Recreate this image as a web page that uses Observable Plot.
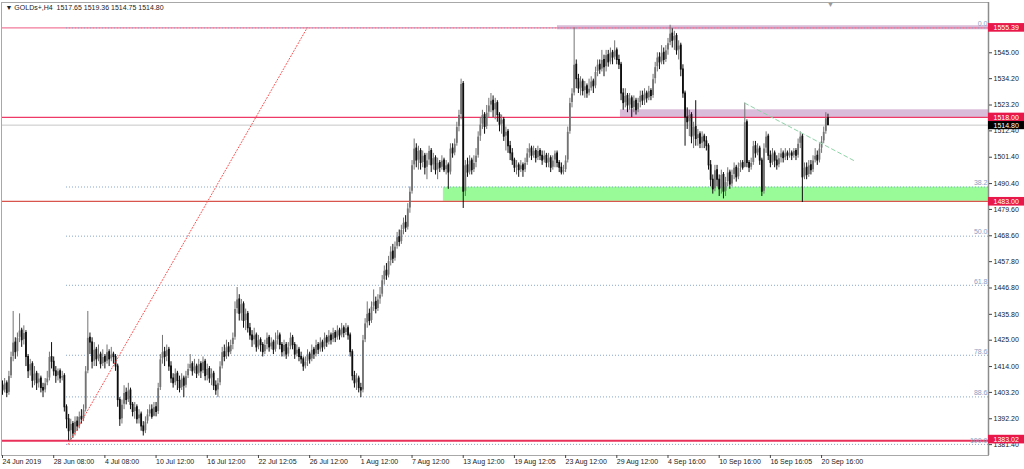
<!DOCTYPE html>
<html><head><meta charset="utf-8">
<script src="https://cdn.jsdelivr.net/npm/d3@7"></script>
<script src="https://cdn.jsdelivr.net/npm/@observablehq/plot@0.6"></script>
<style>body{margin:0;background:#fff} svg{display:block}</style>
</head><body><div id="chart"></div>
<script>
// ---- DATA (GOLDs+, H4) ----
const headerText = "\u25BC GOLDs+,H4  1517.65 1519.36 1514.75 1514.80";
const firstOpen = 1406;
const closes = [
1404,1407,1403,1410,1418,1424,1420,1426,1429,1425,
1428,1418,1412,1415,1408,1411,1407,1409,1405,1404,
1407,1409,1418,1416,1412,1410,1412,1409,1410,1397,
1392,1387,1390,1386,1391,1389,1393,1392,1396,1412,
1426,1424,1416,1421,1417,1419,1415,1418,1416,1420,
1417,1419,1418,1414,1400,1392,1398,1403,1400,1404,
1398,1395,1397,1392,1394,1389,1387,1391,1394,1396,
1393,1397,1395,1405,1417,1420,1418,1421,1414,1409,
1407,1411,1408,1405,1409,1406,1410,1413,1415,1412,
1414,1411,1415,1412,1416,1410,1413,1409,1411,1406,
1404,1407,1414,1420,1418,1422,1420,1423,1426,1438,
1442,1436,1440,1433,1436,1430,1427,1425,1427,1422,
1425,1423,1420,1423,1426,1422,1424,1421,1425,1427,
1423,1420,1423,1419,1422,1426,1423,1419,1421,1418,
1417,1414,1416,1419,1417,1421,1419,1423,1421,1424,
1422,1426,1424,1427,1425,1428,1426,1429,1427,1430,
1428,1430,1427,1420,1410,1407,1409,1405,1404,1425,
1432,1436,1433,1439,1441,1438,1442,1444,1450,1454,
1452,1458,1462,1459,1464,1468,1466,1471,1474,1472,
1480,1487,1498,1505,1500,1504,1499,1502,1497,1500,
1504,1498,1501,1496,1499,1497,1500,1496,1498,1495,
1505,1503,1507,1514,1519,1532,1487,1498,1495,1500,
1496,1499,1502,1510,1515,1519,1514,1520,1523,1525,
1521,1524,1519,1515,1517,1510,1512,1506,1503,1500,
1497,1498,1496,1498,1496,1499,1503,1505,1502,1504,
1501,1504,1502,1500,1502,1499,1501,1497,1500,1503,
1499,1497,1495,1496,1500,1512,1524,1528,1540,1534,
1530,1533,1529,1531,1528,1530,1533,1531,1537,1540,
1538,1542,1539,1544,1541,1545,1543,1546,1542,1540,
1528,1524,1527,1523,1526,1522,1525,1521,1524,1527,
1525,1528,1526,1529,1527,1534,1539,1543,1541,1545,
1542,1546,1549,1553,1550,1552,1546,1548,1538,1528,
1518,1516,1519,1510,1514,1509,1511,1507,1510,1508,
1506,1498,1492,1488,1496,1492,1488,1494,1487,1491,
1495,1490,1494,1497,1493,1497,1499,1497,1516,1499,
1497,1499,1506,1503,1505,1500,1487,1505,1510,1502,
1499,1503,1500,1498,1501,1503,1501,1503,1502,1503,
1502,1504,1502,1507,1510,1493,1497,1494,1498,1496,
1500,1502,1500,1505,1508,1512,1517.65,1514.80];
const highs = [
1408,1409,1408,1412,1420,1437,1426,1428,1436,1430,
1431,1429,1419,1417,1416,1414,1412,1411,1410,1407,
1409,1412,1420,1424,1418,1414,1413,1413,1412,1411,
1398,1394,1392,1391,1393,1393,1395,1396,1398,1414,
1437,1428,1426,1424,1422,1423,1420,1421,1419,1423,
1421,1422,1420,1419,1415,1401,1400,1406,1405,1407,
1405,1399,1399,1398,1396,1395,1391,1393,1396,1398,
1398,1399,1399,1407,1419,1427,1422,1423,1422,1416,
1411,1413,1412,1410,1411,1410,1412,1415,1419,1416,
1417,1415,1417,1416,1418,1417,1415,1414,1413,1412,
1408,1409,1416,1422,1423,1425,1424,1425,1428,1441,
1447,1444,1442,1441,1438,1437,1432,1429,1430,1428,
1427,1426,1424,1425,1428,1427,1426,1425,1428,1429,
1428,1424,1425,1424,1424,1428,1427,1424,1423,1422,
1420,1418,1418,1421,1420,1423,1422,1425,1424,1426,
1425,1428,1427,1429,1428,1430,1429,1431,1430,1432,
1431,1432,1431,1428,1421,1412,1411,1410,1407,1427,
1434,1441,1438,1441,1446,1443,1444,1447,1452,1456,
1457,1460,1464,1465,1466,1470,1471,1473,1476,1477,
1482,1489,1500,1509,1507,1506,1505,1504,1503,1503,
1506,1505,1503,1502,1501,1500,1502,1501,1500,1499,
1507,1507,1509,1516,1521,1534,1533,1500,1501,1502,
1501,1502,1505,1512,1518,1521,1520,1523,1526,1528,
1527,1526,1525,1520,1519,1518,1514,1513,1508,1505,
1501,1500,1499,1500,1499,1501,1505,1507,1506,1506,
1505,1506,1505,1504,1504,1503,1503,1502,1502,1504,
1504,1500,1499,1498,1502,1514,1526,1530,1555.4,1542,
1536,1535,1534,1533,1532,1534,1535,1534,1539,1542,
1542,1546,1544,1546,1546,1547,1546,1550,1547,1544,
1541,1530,1530,1528,1528,1527,1527,1526,1526,1529,
1529,1530,1529,1531,1530,1536,1541,1545,1545,1548,
1547,1548,1551,1556.5,1555,1554,1553,1550,1549,1540,
1529,1522,1521,1520,1516,1525,1513,1512,1512,1511,
1510,1507,1500,1494,1498,1498,1494,1496,1495,1493,
1497,1496,1496,1499,1498,1499,1500,1500,1524,1517,
1500,1501,1508,1508,1507,1506,1501,1507,1512,1511,
1504,1505,1504,1502,1503,1505,1504,1505,1504,1505,
1504,1505,1505,1509,1512,1511,1499,1499,1500,1500,
1502,1505,1504,1507,1510,1514,1520,1519.36];
const lows = [
1402,1403,1401,1402,1409,1416,1417,1418,1424,1422,
1423,1414,1409,1410,1405,1406,1404,1405,1403,1401,
1403,1406,1408,1413,1410,1407,1408,1407,1408,1395,
1388,1383,1383,1384,1385,1387,1388,1390,1391,1395,
1411,1419,1413,1414,1414,1416,1413,1414,1413,1415,
1414,1416,1415,1412,1397,1389,1390,1396,1398,1399,
1396,1393,1392,1390,1390,1387,1385,1386,1390,1393,
1392,1393,1393,1394,1404,1415,1414,1416,1412,1407,
1405,1406,1404,1403,1404,1401,1405,1409,1412,1410,
1411,1409,1410,1409,1411,1408,1408,1407,1406,1404,
1402,1401,1406,1413,1416,1417,1418,1419,1421,1425,
1436,1433,1433,1430,1429,1428,1425,1422,1423,1420,
1421,1420,1418,1419,1421,1420,1421,1419,1420,1423,
1421,1418,1418,1417,1418,1421,1421,1417,1418,1416,
1415,1412,1413,1414,1415,1416,1417,1418,1419,1420,
1420,1421,1422,1423,1423,1424,1424,1425,1425,1426,
1426,1427,1425,1418,1408,1405,1404,1403,1401,1403,
1424,1430,1431,1432,1437,1436,1437,1440,1443,1448,
1450,1451,1456,1457,1458,1463,1464,1465,1469,1470,
1471,1478,1486,1496,1497,1496,1496,1497,1494,1492,
1498,1495,1496,1494,1492,1495,1496,1495,1494,1488,
1494,1501,1502,1506,1512,1517,1480,1485,1493,1494,
1494,1495,1497,1501,1508,1513,1511,1513,1518,1520,
1518,1517,1516,1512,1511,1508,1504,1503,1500,1498,
1495,1494,1493,1495,1493,1495,1498,1501,1500,1501,
1499,1500,1500,1498,1499,1497,1497,1495,1496,1497,
1497,1495,1494,1494,1495,1499,1511,1522,1527,1530,
1528,1527,1527,1526,1526,1527,1529,1528,1530,1535,
1536,1537,1535,1537,1539,1540,1540,1542,1540,1538,
1525,1521,1522,1520,1521,1518,1520,1519,1520,1522,
1523,1523,1524,1525,1525,1526,1532,1537,1538,1540,
1540,1541,1544,1548,1547,1546,1544,1542,1535,1526,
1506,1513,1510,1507,1505,1506,1506,1505,1505,1505,
1504,1496,1489,1486,1487,1489,1485,1486,1484,1485,
1489,1488,1489,1492,1491,1492,1495,1496,1497,1497,
1495,1496,1498,1501,1502,1498,1485,1486,1503,1500,
1497,1498,1497,1496,1497,1499,1499,1500,1500,1501,
1500,1501,1500,1501,1505,1482.5,1492,1492,1493,1494,
1495,1499,1498,1499,1503,1507,1511,1514.75];

const xTickIdx = [0,24,48,72,96,120,144,168,192,216,240,264,288,312,336,360,384];
const xTickLabels = ["24 Jun 2019","28 Jun 08:00","4 Jul 08:00","10 Jul 12:00","16 Jul 12:00","22 Jul 12:05","26 Jul 12:00","1 Aug 12:00","7 Aug 12:00","13 Aug 12:00","19 Aug 12:05","23 Aug 12:00","29 Aug 12:00","4 Sep 16:00","10 Sep 16:00","16 Sep 16:05","20 Sep 16:00"];
const yTicks = [1545,1534.2,1523.2,1512.4,1501.4,1490.4,1479.6,1468.6,1457.8,1446.8,1435.8,1425,1414,1403.2,1392.2,1381.4];

const fibLevels = [0, 38.2, 50, 61.8, 78.6, 88.6, 100];
const fibHigh = 1555.39, fibLow = 1381.5;
const fibAnchor = [{i: 30.8, p: 1381.5}, {i: 142.8, p: 1555.39}];
const fibStartIdx = 30;
const trendLine = [{i: 348, p: 1524}, {i: 400, p: 1499.6}];

const level1555 = 1555.39, level1518 = 1518.00, bidLevel = 1514.80, level1483 = 1483.00, level1383 = 1383.02;
const zones = [
  {name: "top", x1: 260.2, p1: 1554.6, p2: 1556.3},
  {name: "mid", x1: 289.7, p1: 1518.0, p2: 1521.2},
  {name: "green", x1: 206.7, p1: 1483.0, p2: 1488.9}
];
const priceBoxes = [
  {label: "1555.39", p1: 1553.6, p2: 1557.2, kind: "red"},
  {label: "1518.00", p1: 1516.3, p2: 1519.8, kind: "red"},
  {label: "1514.80", p1: 1512.9, p2: 1516.3, kind: "black"},
  {label: "1483.00", p1: 1481.0, p2: 1484.6, kind: "red"},
  {label: "1383.02", p1: 1381.7, p2: 1385.3, kind: "red"}
];

// ---- BUILD ----
const xMin = -0.469, xMax = 462.26, boxW = 17;
const yMin = 1376.86, yMax = 1566.0;
const shiftIdx = 388.2;

const bars = closes.map((c, i) => {
  const o = i ? closes[i - 1] : firstOpen;
  return {i, o, c, h: Math.max(highs[i], o, c), l: Math.min(lows[i], o, c)};
});
const bull = bars.filter(d => d.c >= d.o);
const bear = bars.filter(d => d.c < d.o);
const fibData = fibLevels.map(l => ({l, p: fibHigh - (fibHigh - fibLow) * l / 100,
  label: l === 0 ? "0.0" : l === 50 ? "50.0" : l === 100 ? "100.0" : String(l)}));
const labelMap = new Map(xTickIdx.map((d, k) => [d, xTickLabels[k]]));

const zoneColor = {top: "#d9bcd9", mid: "#d9bcd9", green: "#98fb98"};
const bullColor = "#737373", bearColor = "#0d0d0d";

const chart = Plot.plot({
  width: 1024, height: 469,
  marginLeft: 1, marginRight: 36, marginTop: 2, marginBottom: 14,
  x: {type: "linear", domain: [xMin, xMax]},
  y: {type: "linear", domain: [yMin, yMax]},
  style: {fontFamily: "'Liberation Sans', Arial, sans-serif", fontSize: "7px", color: "#222", background: "#fff"},
  marks: [
    Plot.rect(zones, {x1: "x1", x2: () => xMax, y1: "p1", y2: "p2", fill: d => zoneColor[d.name]}),
    Plot.ruleY([level1555], {stroke: "#f27a9a", strokeWidth: 1.2}),
    Plot.ruleY([bidLevel], {stroke: "#c6c6c6", strokeWidth: 1}),
    Plot.ruleY([level1518], {stroke: "#ee3a66", strokeWidth: 1.2}),
    Plot.ruleY([level1483], {stroke: "#d8554e", strokeWidth: 1.2}),
    Plot.ruleY([level1383], {stroke: "#e8305a", strokeWidth: 2}),
    Plot.ruleY(fibData, {y: "p", x1: () => fibStartIdx, x2: () => xMax, stroke: "#86a4cc", strokeWidth: 1, strokeDasharray: "1,2"}),
    Plot.ruleX(bull, {x: "i", y1: "l", y2: "h", stroke: bullColor, strokeWidth: 1}),
    Plot.ruleX(bull, {x: "i", y1: "o", y2: "c", stroke: bullColor, strokeWidth: 1.8, insetTop: -0.5, insetBottom: -0.5}),
    Plot.ruleX(bear, {x: "i", y1: "l", y2: "h", stroke: bearColor, strokeWidth: 1}),
    Plot.ruleX(bear, {x: "i", y1: "o", y2: "c", stroke: bearColor, strokeWidth: 1.8, insetTop: -0.5, insetBottom: -0.5}),
    Plot.line(fibAnchor, {x: "i", y: "p", stroke: "#ff4a4a", strokeWidth: 1, strokeDasharray: "1,2"}),
    Plot.line(trendLine, {x: "i", y: "p", stroke: "#8fd3a8", strokeWidth: 1, strokeDasharray: "4,3"}),
    Plot.text(fibData, {x: () => xMax, y: "p", text: "label", textAnchor: "end", dx: -1, dy: -4, fill: "#86a0c6", fontSize: 7}),
    Plot.text([headerText], {frameAnchor: "top-left", dx: 4, dy: 3, text: d => d, textAnchor: "start", lineAnchor: "top", fill: "#222", fontSize: 7}),
    Plot.text(["\u25BC"], {x: () => shiftIdx, frameAnchor: "top", dy: 0, text: d => d, lineAnchor: "top", fill: "#9a9a9a", fontSize: 7}),
    Plot.frame({stroke: "#a8a8a8"}),
    Plot.ruleX([xMax], {stroke: "#8c8c8c", strokeWidth: 1.5}),
    Plot.axisY(yTicks, {anchor: "right", tickSize: 3, tickPadding: 2, tickFormat: d => d.toFixed(2), label: null, fill: "#222", stroke: "#444"}),
    Plot.axisX(xTickIdx, {anchor: "bottom", tickSize: 3, tickPadding: 1, tickFormat: d => labelMap.get(d), textAnchor: "start", label: null, fill: "#222", stroke: "#444"}),
    Plot.rect(priceBoxes, {x1: () => xMax, x2: () => xMax + boxW, y1: "p1", y2: "p2", fill: d => d.kind === "red" ? "#e8184a" : "#000"}),
    Plot.text(priceBoxes, {x: () => xMax, y: d => (d.p1 + d.p2) / 2, text: "label", textAnchor: "start", dx: 5, fill: "#fff", fontSize: 7})
  ]
});
document.getElementById("chart").appendChild(chart);
</script>
</body></html>
